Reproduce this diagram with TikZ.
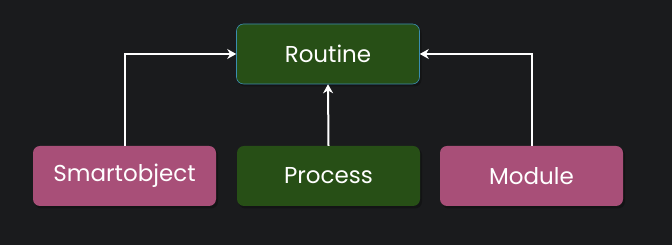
\documentclass[tikz,border=0pt]{standalone}
\usepackage{fontspec}
\setmainfont{Poppins}
\usepackage{tikz}
\usetikzlibrary{arrows.meta, positioning}
\definecolor{bgdark}{HTML}{1A1B1D}
\definecolor{routinegreen}{HTML}{274F16}
\definecolor{smartpink}{HTML}{A84F78}
\definecolor{edgeteal}{HTML}{3B8DB0}
\definecolor{shadowdark}{HTML}{131415}

\tikzset{
  box/.style={rounded corners=7pt, minimum width=183pt, minimum height=60pt,
    inner sep=0pt, text=white, font=\fontsize{23}{26}\selectfont},
  greenbox/.style={box, fill=routinegreen},
  pinkbox/.style={box, fill=smartpink},
  link/.style={white, line width=2pt, -{Stealth[length=9pt,width=10pt]}}
}

\begin{document}
\begin{tikzpicture}[x=1pt, y=1pt]
  % page and background
  \fill[bgdark] (0,0) rectangle (672,245);
  \useasboundingbox (0,0) rectangle (672,245);
  % soft shadows under the boxes
  \foreach \cx/\cy in {328/191, 124.5/69, 328.5/69, 531.5/69}
    \fill[shadowdark, rounded corners=7pt] (\cx-90,\cy-32.5) rectangle (\cx+93.5,\cy+28);
  % boxes
  \node[greenbox, draw=edgeteal, line width=0.6pt] (routine) at (328,191) {Routine};
  \node[pinkbox]  (smartobj) at (124.5,69) {Smartobject};
  \node[greenbox] (process)  at (328.5,69) {Process};
  \node[pinkbox]  (module)   at (531.5,69) {Module};
  % links into the routine
  \draw[link] (smartobj.north) |- (routine.west);
  \draw[link] (process.north) -- (routine.south);
  \draw[link] (module.north) |- (routine.east);
\end{tikzpicture}
\end{document}
